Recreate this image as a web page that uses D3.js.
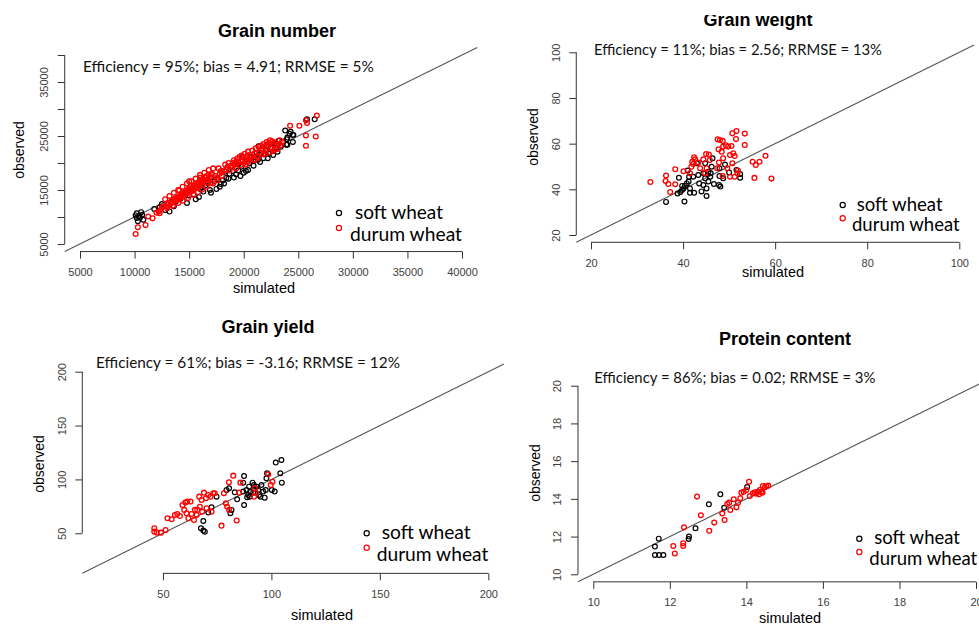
<!DOCTYPE html>
<html>
<head>
<meta charset="utf-8">
<script src="https://cdn.jsdelivr.net/npm/d3@7"></script>
<style>
  html, body { margin: 0; padding: 0; background: #fff; }
  svg { display: block; }
</style>
</head>
<body>
<svg id="chart" width="979" height="625"></svg>
<script>
// ---- data: [simulated, observed] ----
const gnSoft = [
  [10200,10700],[10400,10200],[10600,10900],[10200,9800],[10800,9500],[10300,9200],[10100,10300],
  [12500,12400],[13200,11000],[13800,12900],[14200,13400],[14600,13900],[15000,14000],[15400,14200],
  [15900,13700],[16000,16800],[16200,15500],[16500,15900],[16900,15000],[17300,16600],[17800,15600],
  [17900,16100],[18300,18400],[18400,17200],[18700,18000],[19000,18500],[19200,19800],[19300,17900],
  [19500,18600],[19800,19300],[19900,21100],[20000,18200],[20200,18500],[20500,19900],[20700,20500],
  [21000,21100],[21300,20600],[21500,21600],[21800,20900],[22000,22400],[22100,23300],[22300,21700],
  [22600,22700],[22800,23600],[22900,22800],[23200,24100],[23400,23000],[23600,24000],[23900,23400],
  [24000,24700],[24300,25800],[24500,25200],[26500,28100],[14000,13600],[15600,15600],[17000,17300],
  [18100,16800],[21200,21900],[16700,16300],[13400,12700],[23800,26000],[23950,24400],[24200,25400],
  [24550,25200],[25800,28100],[21350,23100],
  [14800,12600],[15600,13300],[16300,14700],[17000,14500],[17500,15200],[18200,16200],[18600,17100],
  [19100,17300],[19700,17600],[20400,18700],[20900,19500],[21500,20200],[22200,20900],[22700,21500],
  [23100,22100],[24000,23400],[24500,23900],[12800,11300],[13600,12000],[11800,11500],[12300,11800],
  [10500,9900],[10700,10400],[16000,15200],[17600,17000],[19500,19700],[20600,21000],[21700,22300],
  [23000,23300],[15200,15000]
];
const gnDurum = [
  [10100,6850],[10300,8100],[11000,8500],[11250,10100],[11650,9750],[12200,11000],[12400,11300],
  [12500,11800],[12700,12000],[12900,11900],[13000,12300],[13100,12600],[13300,12500],[13400,12900],
  [13500,12700],[13600,13100],[13700,13400],[13800,13000],[13900,13500],[14000,13800],[14100,13300],
  [14200,14000],[14300,13700],[14400,14200],[14500,14500],[14500,13900],[14600,14300],[14700,14800],
  [14800,14400],[14900,15000],[15000,14700],[15000,15300],[15100,15700],[15200,15100],[15300,14800],
  [15400,15500],[15500,15900],[15600,15300],[15700,16200],[15800,15700],[15900,16500],[16000,16000],
  [16100,16800],[16200,16400],[16300,17000],[16400,16600],[16500,17300],[16600,17600],[16700,17000],
  [16800,17800],[16900,17300],[17000,17900],[17100,18000],[15000,16600],[16000,17300],[17200,16200],
  [17600,16800],[17400,17600],[18000,17600],[18200,18600],[18500,19200],[18800,19500],[19000,19200],
  [19200,19800],[19500,20100],[19700,19600],[19900,20500],[20000,21000],[20200,20300],[20300,21300],
  [20500,20700],[20600,21500],[20700,21100],[21000,21800],[21200,21300],[21500,22000],[21700,22500],
  [21900,23000],[22000,22200],[22200,23200],[22300,23700],[22500,22800],[22700,23400],[22900,23800],
  [23100,22600],[23300,24200],[23500,23900],[24250,26900],[25100,26900],[25700,27900],[25800,27400],
  [26700,28800],[25700,25100],[26600,24900],[25700,23200],[12000,10800],[12300,10700],[17900,18500],
  [19300,19000],
  [12800,13300],[13200,13900],[13600,14500],[14000,15000],[14400,15600],[14800,16200],[15200,16600],
  [15600,17100],[16000,17800],[16400,18200],[16800,18700],[17200,19000],[13000,11600],[13500,12100],
  [14000,12600],[14400,13000],[14900,13500],[15400,14100],[15800,14600],[16200,15100],[16600,15600],
  [17000,16300],[17500,17200],[18000,18300],[18400,18800],[18700,18600],[19100,20500],[19400,20800],
  [19600,21100],[19800,21400],[20100,21700],[20400,22100],[20800,22300],[21100,22700],[21400,23000],
  [21600,23200],[21800,23500],[22100,23900],[22400,24200],[22600,24000],[20000,20000],[20400,20200],
  [20900,20600],[21300,21000],[21800,21600],[22400,22000],[22900,22500],[23400,23300],[18300,19700],
  [18600,20000],[17700,19000],[19000,20000],[19300,20200],[20200,19700],[21000,20500],[22000,21800],
  [22700,22200],[23200,23500],[14100,14900],[15300,15400],[15700,15800],[16200,16900],[16600,16900],
  [17800,18000]
];
const gwSoft = [
  [36.3,34.5],[40.3,34.7],[38.8,38.2],[39.4,38.8],[39.8,39.7],[40.1,40.4],[40.4,41.5],[40.8,42.6],
  [39.8,41.5],[41.2,43.4],[41.3,45.5],[41.0,48.2],[39.1,45.1],[42.4,38.5],[41.5,38.5],[44.0,39.1],
  [45.1,37.1],[45.1,40.4],[44.4,41.9],[43.5,42.6],[43.3,46.3],[44.8,44.8],[45.5,43.4],[45.9,45.5],
  [46.0,47.0],[46.2,49.9],[46.4,53.6],[44.8,51.4],[46.7,42.3],[47.8,41.9],[48.1,41.2],[47.9,49.2],
  [47.9,45.8],[48.7,44.8],[49.1,50.9],[50.0,47.4],[51.6,48.5],[52.4,46.7],[52.4,45.1],[43.0,51.4],
  [44.4,47.0],[45.5,47.7],[42.2,45.5],[41.5,40.4]
];
const gwDurum = [
  [32.9,43.2],[36.3,46.0],[36.2,43.6],[36.8,42.3],[37.2,38.8],[38.3,42.2],[38.3,48.8],[40.1,47.9],
  [41.8,49.9],[42.0,52.0],[42.4,54.0],[42.6,53.1],[42.2,51.1],[43.3,51.7],[43.7,49.2],[44.4,53.1],
  [45.0,55.5],[45.6,55.2],[45.1,49.2],[44.8,47.0],[47.5,61.9],[48.0,61.6],[48.6,61.2],[47.7,57.5],
  [48.4,56.5],[48.7,58.7],[49.3,59.3],[49.8,58.7],[50.7,64.5],[51.6,65.5],[51.5,62.0],[53.4,64.4],
  [53.4,59.4],[50.5,59.0],[50.9,55.8],[51.2,54.6],[50.2,55.0],[48.7,53.6],[47.8,51.7],[47.4,49.2],
  [50.7,51.4],[49.6,49.2],[50.2,45.5],[51.2,45.5],[51.9,48.2],[51.8,47.0],[48.6,45.8],[55.1,52.1],
  [55.8,50.7],[56.6,52.1],[57.9,54.7],[55.5,45.0],[59.2,44.7],[45.8,52.8],[41.5,47.0]
];
const gySoft = [
  [67.5,54.6],[68.6,52.5],[69.3,51.5],[68.6,61.4],[70.9,69.2],[72.4,74.1],[74.7,84.0],[79.3,90.2],
  [80.5,91.8],[81.1,68.6],[81.6,71.7],[83.1,88.0],[84.2,81.5],[87.4,76.3],[87.4,103.2],[88.5,90.2],
  [89.3,85.6],[89.7,93.3],[90.3,88.7],[91.3,97.0],[91.9,94.8],[93.1,93.3],[93.9,90.2],[94.3,85.6],
  [94.9,84.0],[95.4,94.8],[96.2,88.7],[96.9,83.1],[97.4,90.2],[97.7,101.0],[98.0,105.7],[100.2,90.2],
  [101.5,88.7],[102.0,115.6],[104.6,118.0],[104.1,105.7],[104.8,97.0],[88.8,83.4],[87.0,88.7],
  [90.0,84.0],[91.6,87.7],[87.0,97.0]
];
const gyDurum = [
  [46.0,54.6],[46.0,51.5],[47.1,50.6],[49.1,50.6],[51.2,53.1],[52.1,63.9],[54.0,63.0],[55.5,67.0],
  [56.6,67.9],[57.8,66.1],[59.0,76.3],[60.3,78.5],[61.2,79.4],[62.7,79.4],[59.8,71.7],[60.9,68.6],
  [61.7,63.9],[63.2,67.9],[64.3,62.4],[65.5,67.0],[65.8,71.7],[66.7,84.0],[67.0,74.7],[67.8,80.9],
  [68.9,87.7],[69.8,82.5],[70.9,85.6],[71.9,84.0],[73.2,87.1],[73.9,87.1],[72.4,70.1],[70.1,73.2],
  [68.1,70.1],[64.7,71.7],[77.0,57.1],[78.1,87.1],[79.0,77.8],[79.6,74.7],[80.5,71.7],[80.4,97.3],
  [82.4,103.5],[84.0,61.8],[85.7,97.0],[85.1,87.7],[92.3,91.8],[92.8,87.7],[92.0,84.0],[98.5,104.7],
  [99.7,94.8],[100.5,97.9]
];
const pcSoft = [
  [11.61,11.02],[11.72,11.02],[11.83,11.02],[11.61,11.47],[11.71,11.89],[12.49,11.87],[12.50,12.00],
  [12.67,12.44],[13.02,13.71],[13.32,14.24],[13.42,13.53],[14.02,14.63]
];
const pcDurum = [
  [12.09,11.50],[12.13,11.10],[12.35,11.64],[12.35,11.50],[12.37,12.49],[12.71,14.12],[12.81,13.13],
  [13.03,12.31],[13.16,12.74],[13.37,13.23],[13.43,12.88],[13.50,13.73],[13.55,13.80],[13.58,13.41],
  [13.67,13.98],[13.74,13.55],[13.78,13.80],[13.84,14.03],[13.87,14.33],[13.93,14.38],[14.00,14.47],
  [14.07,14.91],[14.09,14.15],[14.17,14.29],[14.22,14.35],[14.26,14.28],[14.30,14.38],[14.35,14.47],
  [14.39,14.38],[14.43,14.68],[14.48,14.61],[14.52,14.68],[14.57,14.70],[14.42,14.33],[14.33,14.24]
];

const panelTitles = ['Grain number', 'Grain weight', 'Grain yield', 'Protein content'];
const statTexts = [
  'Efficiency = 95%; bias = 4.91; RRMSE = 5%',
  'Efficiency = 11%; bias = 2.56; RRMSE = 13%',
  'Efficiency = 61%; bias = -3.16; RRMSE = 12%',
  'Efficiency = 86%; bias = 0.02; RRMSE = 3%'
];
const legendLabels = ['soft wheat', 'durum wheat'];
const gnTicks = [5000, 10000, 15000, 20000, 25000, 30000, 35000, 40000];
const gnYLabels = [5000, 15000, 25000, 35000];
const gwTicks = [20, 40, 60, 80, 100];
const gyTicks = [50, 100, 150, 200];
const pcTicks = [10, 12, 14, 16, 18, 20];

// ---- layout (pixel positions) ----
const panels = [
  {
    title: panelTitles[0], stat: statTexts[0], soft: gnSoft, durum: gnDurum,
    domain: [5000, 40000], ticks: gnTicks, yLabels: gnYLabels,
    xRange: [80, 462], yRange: [244, 55],
    titleAt: [277, 37], statAt: [83, 71.7], statW: 291,
    legSym: [339, 213, 228], leg1: [355, 219, 88], leg2: [350, 240.7, 112],
    ylabAt: [19, 150], xlabAt: [264, 293]
  },
  {
    title: panelTitles[1], stat: statTexts[1], soft: gwSoft, durum: gwDurum,
    domain: [20, 100], ticks: gwTicks, yLabels: gwTicks,
    xRange: [591, 959.3], yRange: [235, 52.3],
    titleAt: [758, 26], statAt: [594, 55], statW: 288, clipTop: 15,
    legSym: [842.7, 205, 218.3], leg1: [856.7, 210.7, 86], leg2: [852, 231, 107.7],
    ylabAt: [533, 137], xlabAt: [773, 276.7]
  },
  {
    title: panelTitles[2], stat: statTexts[2], soft: gySoft, durum: gyDurum,
    domain: [20, 200], ticks: gyTicks, yLabels: gyTicks,
    xRange: [97.9, 488.3], yRange: [565.6, 371.7],
    titleAt: [268, 332.7], statAt: [96, 368.3], statW: 304,
    legSym: [366.7, 533.3, 547.7], leg1: [381.7, 539, 89], leg2: [376.7, 560.5, 111.7],
    ylabAt: [39, 464], xlabAt: [322, 620]
  },
  {
    title: panelTitles[3], stat: statTexts[3], soft: pcSoft, durum: pcDurum,
    domain: [10, 20], ticks: pcTicks, yLabels: pcTicks,
    xRange: [593.3, 976], yRange: [574.3, 385.7],
    titleAt: [785, 345], statAt: [594.3, 382.7], statW: 281.3,
    legSym: [859.3, 538.7, 552], leg1: [874.3, 544, 85.7], leg2: [869.3, 564.7, 108],
    ylabAt: [535, 473], xlabAt: [790, 623.3]
  }
];

const svg = d3.select('#chart');
const TEXT_FONT = 'Lato, "Open Sans", sans-serif';
const AXIS_FONT = '"Liberation Sans", Arial, sans-serif';
const fmt = d3.format('d');

function fitWidth(sel, target) {
  const w = sel.node().getComputedTextLength();
  const fs = parseFloat(sel.attr('font-size'));
  sel.attr('font-size', (fs * target) / w);
}

function drawPanel(p, i) {
  const g = svg.append('g').attr('class', `panel-${i}`);
  const x = d3.scaleLinear().domain(p.domain).range(p.xRange);
  const y = d3.scaleLinear().domain(p.domain).range(p.yRange);
  const span = p.domain[1] - p.domain[0];
  const lo = p.domain[0] - span * 0.04;
  const hi = p.domain[1] + span * 0.04;
  const axisX = x(lo);
  const axisY = y(lo);

  // 1:1 line across the plot region
  g.append('line')
    .attr('x1', x(lo)).attr('y1', y(lo))
    .attr('x2', x(hi)).attr('y2', y(hi))
    .attr('stroke', '#555')
    .attr('stroke-width', 1.1);

  // x axis
  const xa = g.append('g')
    .attr('transform', `translate(0,${axisY})`)
    .call(
      d3.axisBottom(x).tickValues(p.ticks).tickSize(7).tickSizeOuter(0)
        .tickFormat(fmt)
    );
  xa.select('.domain').remove();
  xa.append('line')
    .attr('x1', x(p.ticks[0])).attr('x2', x(p.ticks[p.ticks.length - 1]))
    .attr('stroke', '#333');
  xa.selectAll('.tick line').attr('stroke', '#333');
  xa.selectAll('.tick text')
    .attr('y', 24.5).attr('dy', null)
    .attr('fill', '#404040')
    .attr('font-size', 11)
    .attr('font-family', AXIS_FONT);

  // y axis (labels rotated, R style)
  const ya = g.append('g')
    .attr('transform', `translate(${axisX},0)`)
    .call(
      d3.axisLeft(y).tickValues(p.ticks).tickSize(7).tickSizeOuter(0)
        .tickFormat((d) => (p.yLabels.includes(d) ? fmt(d) : ''))
    );
  ya.select('.domain').remove();
  ya.append('line')
    .attr('y1', y(p.ticks[0])).attr('y2', y(p.ticks[p.ticks.length - 1]))
    .attr('stroke', '#333');
  ya.selectAll('.tick line').attr('stroke', '#333');
  ya.selectAll('.tick text')
    .attr('transform', 'rotate(-90)')
    .attr('x', 0).attr('y', -16.5).attr('dy', null)
    .attr('text-anchor', 'middle')
    .attr('fill', '#404040')
    .attr('font-size', 11)
    .attr('font-family', AXIS_FONT);

  // points
  const pts = g.append('g');
  pts.selectAll('circle.soft')
    .data(p.soft)
    .enter()
    .append('circle')
    .attr('class', 'soft')
    .attr('cx', (d) => x(d[0]))
    .attr('cy', (d) => y(d[1]))
    .attr('r', 2.4)
    .attr('fill', 'none')
    .attr('stroke', '#000')
    .attr('stroke-width', 1.2);
  pts.selectAll('circle.durum')
    .data(p.durum)
    .enter()
    .append('circle')
    .attr('class', 'durum')
    .attr('cx', (d) => x(d[0]))
    .attr('cy', (d) => y(d[1]))
    .attr('r', 2.4)
    .attr('fill', 'none')
    .attr('stroke', '#ff0000')
    .attr('stroke-width', 1.3);

  // title (grain weight title is cut at the top in the source figure)
  let titleParent = g;
  if (p.clipTop != null) {
    svg.append('clipPath').attr('id', `clip-${i}`)
      .append('rect')
      .attr('x', 0).attr('y', p.clipTop)
      .attr('width', 979).attr('height', 625);
    titleParent = g.append('g').attr('clip-path', `url(#clip-${i})`);
  }
  titleParent.append('text')
    .attr('x', p.titleAt[0]).attr('y', p.titleAt[1])
    .attr('text-anchor', 'middle')
    .attr('font-family', AXIS_FONT)
    .attr('font-weight', 'bold')
    .attr('font-size', 18)
    .text(p.title);

  // stats line
  const st = g.append('text')
    .attr('x', p.statAt[0]).attr('y', p.statAt[1])
    .attr('font-family', TEXT_FONT)
    .attr('font-size', 16)
    .attr('fill', '#111')
    .text(p.stat);
  fitWidth(st, p.statW);

  // axis titles
  g.append('text')
    .attr('transform', `translate(${p.ylabAt[0]},${p.ylabAt[1]}) rotate(-90)`)
    .attr('text-anchor', 'middle')
    .attr('dy', '0.35em')
    .attr('font-family', AXIS_FONT)
    .attr('font-size', 14)
    .text('observed');
  g.append('text')
    .attr('x', p.xlabAt[0]).attr('y', p.xlabAt[1])
    .attr('text-anchor', 'middle')
    .attr('font-family', AXIS_FONT)
    .attr('font-size', 14.5)
    .text('simulated');

  // legend
  const leg = g.append('g');
  leg.append('circle')
    .attr('cx', p.legSym[0]).attr('cy', p.legSym[1]).attr('r', 2.6)
    .attr('fill', 'none').attr('stroke', '#000').attr('stroke-width', 1.2);
  leg.append('circle')
    .attr('cx', p.legSym[0]).attr('cy', p.legSym[2]).attr('r', 2.6)
    .attr('fill', 'none').attr('stroke', '#ff0000').attr('stroke-width', 1.2);
  [p.leg1, p.leg2].forEach((l, k) => {
    const t = leg.append('text')
      .attr('x', l[0]).attr('y', l[1])
      .attr('font-family', TEXT_FONT)
      .attr('font-size', 18)
      .text(legendLabels[k]);
    fitWidth(t, l[2]);
  });
}

panels.forEach(drawPanel);
</script>
</body>
</html>
